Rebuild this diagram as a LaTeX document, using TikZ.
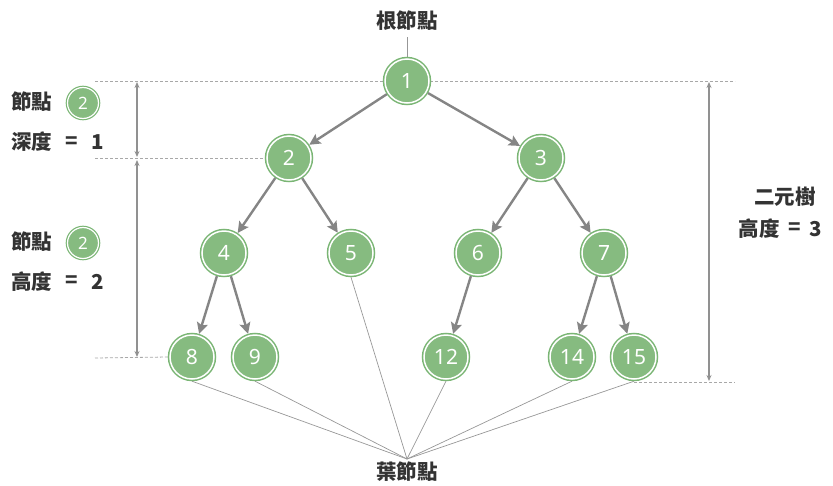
\documentclass[tikz,border=0pt]{standalone}
\usepackage{fontspec}
\setmainfont{Noto Sans}
\newfontfamily\cjk{Noto Sans CJK TC}
\usetikzlibrary{arrows.meta,backgrounds}
\definecolor{G}{HTML}{86BB80}
\definecolor{GD}{HTML}{7AB574}
\definecolor{EG}{HTML}{858585}
\definecolor{TX}{HTML}{333333}
\definecolor{DL}{HTML}{A8A8A8}
\tikzset{
  tnode/.style={circle, fill=G, draw=white, line width=1.5pt, minimum size=44pt, inner sep=0pt,
    preaction={draw=GD, line width=4.5pt}, outer sep=2.2pt, text=white,
    font=\fontsize{21}{21}\selectfont},
  snode/.style={circle, fill=G, draw=white, line width=1.2pt, minimum size=31pt, inner sep=0pt,
    preaction={draw=GD, line width=3.6pt}, text=white,
    font=\bfseries\fontsize{17}{17}\selectfont},
  edge/.style={draw=EG, line width=2.4pt, -{Stealth[length=11pt,width=11pt,inset=2pt]}},
  leafln/.style={draw=DL!90!black, line width=0.7pt},
  guide/.style={draw=DL, line width=0.8pt, dash pattern=on 3pt off 2pt},
  dim/.style={draw=EG!90, line width=1.2pt, {Stealth[length=6pt,width=5pt]}-{Stealth[length=6pt,width=5pt]}},
  lbl/.style={text=TX, font=\cjk\bfseries\fontsize{20.5}{20.5}\selectfont, inner sep=0pt},
}
\begin{document}
\begin{tikzpicture}[x=1pt,y=-1pt]
\useasboundingbox (0,0) rectangle (833,485);
% tree nodes
\node[tnode] (n1) at (407,81) {1};
\node[tnode] (n2) at (289,158) {2};
\node[tnode] (n3) at (541,158) {3};
\node[tnode] (n4) at (224,253) {4};
\node[tnode] (n5) at (351,253) {5};
\node[tnode] (n6) at (478,253) {6};
\node[tnode] (n7) at (604,253) {7};
\node[tnode] (n8) at (192,357) {8};
\node[tnode] (n9) at (255,357) {9};
\node[tnode] (n12) at (446,357) {12};
\node[tnode] (n14) at (572,357) {14};
\node[tnode] (n15) at (634,357) {15};
% labels
\node[lbl] (root) at (407,21) {根節點};
\node[lbl] (leaf) at (407,472) {葉節點};
\coordinate (rootln) at (407,37);
\coordinate (leafpt) at (407,459);
% left labels
\node[lbl] (la1) at (32,102) {節點};
\node[snode] (sc1) at (83,103) {2};
\node[lbl] (la2) at (32,142) {深度};
\node[lbl] (eq1) at (72,143) {=};
\node[lbl] (v1) at (98,142) {1};
\node[lbl] (lb1) at (32,242) {節點};
\node[snode] (sc2) at (83,243) {2};
\node[lbl] (lb2) at (32,282) {高度};
\node[lbl] (eq2) at (72,282) {=};
\node[lbl] (v2) at (98,282) {2};
% right labels
\node[lbl] (ra1) at (785,197) {二元樹};
\node[lbl] (ra2) at (759,229) {高度};
\node[lbl] (eq3) at (795,229) {=};
\node[lbl] (v3) at (816,229) {3};
% guides and dimension arrows
\coordinate (g1a) at (95,81);
\coordinate (g1b) at (735,81);
\coordinate (g2a) at (95,158);
\coordinate (g3a) at (95,358);
\coordinate (g4a) at (634,382);
\coordinate (g4b) at (735,382);
\coordinate (d1a) at (137,82);
\coordinate (d1b) at (137,157);
\coordinate (d2a) at (137,160);
\coordinate (d2b) at (137,357);
\coordinate (d3a) at (709,82);
\coordinate (d3b) at (709,381);
\begin{scope}[on background layer]
\draw[guide] (g1a) -- (g1b);
\draw[guide] (g2a) -- (n2.west);
\draw[guide] (g3a) -- (n8.west);
\draw[guide] (g4a) -- (g4b);
\draw[leafln] (rootln) -- (n1.north);
\foreach \n in {n8,n9,n5,n12,n14,n15} \draw[leafln] (\n.south) -- (leafpt);
\end{scope}
\draw[dim] (d1a) -- (d1b);
\draw[dim] (d2a) -- (d2b);
\draw[dim] (d3a) -- (d3b);
% edges
\draw[edge] (n1) -- (n2);
\draw[edge] (n1) -- (n3);
\draw[edge] (n2) -- (n4);
\draw[edge] (n2) -- (n5);
\draw[edge] (n3) -- (n6);
\draw[edge] (n3) -- (n7);
\draw[edge] (n4) -- (n8);
\draw[edge] (n4) -- (n9);
\draw[edge] (n6) -- (n12);
\draw[edge] (n7) -- (n14);
\draw[edge] (n7) -- (n15);
\end{tikzpicture}
\end{document}
